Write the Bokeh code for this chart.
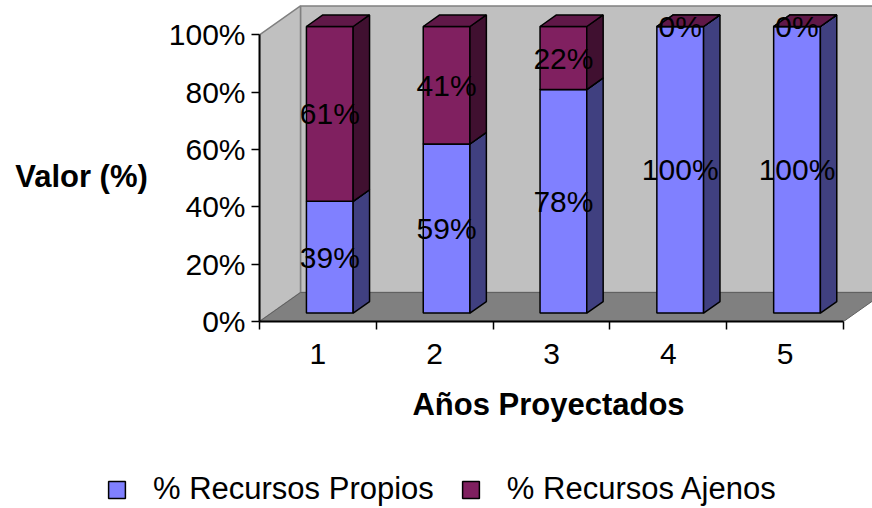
from bokeh.plotting import figure
from bokeh.layouts import column, row
from bokeh.models import Range1d, FixedTicker, Legend, LegendItem, Label
from bokeh.embed import file_html
from bokeh.resources import INLINE
from bokeh.core.properties import value

# ---------------- data ----------------
categories = ["1", "2", "3", "4", "5"]
propios = [39, 59, 78, 100, 100]
ajenos = [61, 41, 22, 0, 0]
y_ticks = [0, 20, 40, 60, 80, 100]
y_tick_labels = ["0%", "20%", "40%", "60%", "80%", "100%"]
series_names = ["% Recursos Propios", "% Recursos Ajenos"]
x_title = "Años Proyectados"
y_title = "Valor (%)"

# ---------------- style ----------------
FONT = "Liberation Sans"
BLUE_FRONT, BLUE_SIDE, BLUE_TOP = "#8080FF", "#404080", "#6060C0"
MAR_FRONT, MAR_SIDE, MAR_TOP = "#802060", "#401030", "#601848"
WALL, FLOOR = "#C0C0C0", "#808080"
# 3D projection (depth of the box, in data units)
WALL_DX, WALL_DY = 0.351, 10.1
BAR_F0, BAR_F1 = 0.29, 0.69
BAR_HALF = 0.2

n = len(categories)
xs = list(range(1, n + 1))
ymax = y_ticks[-1]

W, H = 872, 508
LEFT_W = 160          # strip holding the y title
MAIN_H = 375          # chart (frame + category labels)
FRAME_H = 321


def no_align(fig):
    try:
        fig.frame_align = False
    except Exception:
        pass


# ---------------- main chart ----------------
p = figure(width=W - LEFT_W, height=MAIN_H,
           x_range=Range1d(0.5, 5.748), y_range=Range1d(0, 112),
           output_backend="svg", toolbar_location=None,
           min_border_left=259 - LEFT_W, min_border_right=0,
           min_border_top=0, min_border_bottom=MAIN_H - FRAME_H)
p.outline_line_color = None
p.grid.visible = False
p.background_fill_color = "white"
p.border_fill_color = "white"

# walls & floor
x0, x1 = 0.5, n + 0.5
p.patch([x0 + WALL_DX, x0 + WALL_DX, x1 + WALL_DX, x1 + WALL_DX],
        [WALL_DY, ymax + WALL_DY, ymax + WALL_DY, WALL_DY],
        fill_color=WALL, line_color="#808080", line_width=1.5)
p.patch([x0, x0, x0 + WALL_DX, x0 + WALL_DX],
        [0, ymax, ymax + WALL_DY, WALL_DY],
        fill_color=WALL, line_color="#808080", line_width=1.5)
p.patch([x0, x1, x1 + WALL_DX, x0 + WALL_DX],
        [0, 0, WALL_DY, WALL_DY],
        fill_color=FLOOR, line_color="#606060", line_width=1)

# bars
ox, oy = BAR_F0 * WALL_DX, BAR_F0 * WALL_DY
ddx, ddy = (BAR_F1 - BAR_F0) * WALL_DX, (BAR_F1 - BAR_F0) * WALL_DY


def faces(bottoms, tops):
    fl, fr, fb, ft = [], [], [], []
    sx, sy, tx, ty = [], [], [], []
    for c, b, t in zip(xs, bottoms, tops):
        l, r = c - BAR_HALF + ox, c + BAR_HALF + ox
        yb, yt = b + oy, t + oy
        fl.append(l); fr.append(r); fb.append(yb); ft.append(yt)
        sx.append([r, r + ddx, r + ddx, r]); sy.append([yb, yb + ddy, yt + ddy, yt])
        tx.append([l, r, r + ddx, l + ddx]); ty.append([yt, yt, yt + ddy, yt + ddy])
    return fl, fr, fb, ft, sx, sy, tx, ty


def draw(fig, bottoms, tops, front, side, top):
    fl, fr, fb, ft, sx, sy, tx, ty = faces(bottoms, tops)
    r = fig.quad(left=fl, right=fr, bottom=fb, top=ft, fill_color=front,
                 line_color="black", line_width=1.5)
    fig.patches(sx, sy, fill_color=side, line_color="black", line_width=1.5)
    fig.patches(tx, ty, fill_color=top, line_color="black", line_width=1.5)
    return r


bot1 = [0] * n
top1 = propios
bot2 = propios
top2 = [a + b for a, b in zip(propios, ajenos)]
draw(p, bot1, top1, BLUE_FRONT, BLUE_SIDE, BLUE_TOP)
draw(p, bot2, top2, MAR_FRONT, MAR_SIDE, MAR_TOP)

# data labels
lx = [c + ox for c in xs]
for bots, vals in ((bot1, propios), (bot2, ajenos)):
    p.text(x=lx, y=[b + v / 2 + oy for b, v in zip(bots, vals)],
           text=[f"{v}%" for v in vals],
           text_font=value(FONT), text_font_size="30px", text_color="black",
           text_align="center", text_baseline="middle")

# axes
p.xaxis.ticker = FixedTicker(ticks=xs, minor_ticks=[i + 0.5 for i in range(0, n + 1)])
p.xaxis.major_label_overrides = {x: c for x, c in zip(xs, categories)}
p.xaxis.bounds = (0.5, n + 0.5)
p.xaxis.major_tick_out = 0
p.xaxis.major_tick_in = 0
p.xaxis.minor_tick_out = 8
p.xaxis.minor_tick_in = 0
p.xaxis.minor_tick_line_color = "black"
p.xaxis.minor_tick_line_width = 1.5
p.xaxis.major_label_standoff = 14

p.yaxis.ticker = FixedTicker(ticks=y_ticks, minor_ticks=[])
p.yaxis.major_label_overrides = {t: l for t, l in zip(y_ticks, y_tick_labels)}
p.yaxis.bounds = (0, ymax)
p.yaxis.major_tick_out = 8
p.yaxis.major_tick_in = 0
p.yaxis.major_tick_line_width = 1.5
p.yaxis.major_label_standoff = 6

for ax in (p.xaxis, p.yaxis):
    ax.axis_line_width = 2
    ax.axis_line_color = "black"
    ax.major_tick_line_color = "black"
    ax.major_label_text_font = FONT
    ax.major_label_text_font_size = "30px"
    ax.major_label_text_color = "black"

# ---------------- y-title strip ----------------
yt = figure(width=LEFT_W, height=MAIN_H, x_axis_type=None, y_axis_type=None,
            x_range=Range1d(0, 1), y_range=Range1d(0, 1),
            output_backend="svg", toolbar_location=None, min_border=0)
yt.outline_line_color = None
yt.grid.visible = False
yt.add_layout(Label(x=81, y=MAIN_H - 176, x_units="screen", y_units="screen",
                    text=y_title, text_font=FONT, text_font_size="31px",
                    text_font_style="bold", text_color="black",
                    text_align="center", text_baseline="middle"))

# ---------------- x-title + legend strip ----------------
BOT_H = H - MAIN_H
q = figure(width=W, height=BOT_H, x_axis_type=None, y_axis_type=None,
           x_range=Range1d(-20, -10), y_range=Range1d(0, 1),
           output_backend="svg", toolbar_location=None, min_border=0)
q.outline_line_color = None
q.grid.visible = False
q.add_layout(Label(x=548, y=BOT_H - (404 - MAIN_H), x_units="screen", y_units="screen",
                   text=x_title, text_font=FONT, text_font_size="31px",
                   text_font_style="bold", text_color="black",
                   text_align="center", text_baseline="middle"))
# legend proxies: the same stacked series, lying outside this strip's visible range
r_blue = draw(q, bot1, top1, BLUE_FRONT, BLUE_SIDE, BLUE_TOP)
r_mar = draw(q, bot2, top2, MAR_FRONT, MAR_SIDE, MAR_TOP)
legend = Legend(items=[LegendItem(label=series_names[0], renderers=[r_blue]),
                       LegendItem(label=series_names[1], renderers=[r_mar])],
                orientation="horizontal", location=(106, 1),
                padding=0, margin=0, spacing=26, label_standoff=26,
                glyph_width=21, glyph_height=21, label_height=21,
                border_line_color=None, background_fill_alpha=0,
                label_text_font=FONT, label_text_font_size="31px",
                label_text_color="black")
q.add_layout(legend)

for f in (p, yt, q):
    no_align(f)

layout = column(row(yt, p, spacing=0), q, spacing=0)
open("out.html", "w").write(file_html(layout, INLINE))
